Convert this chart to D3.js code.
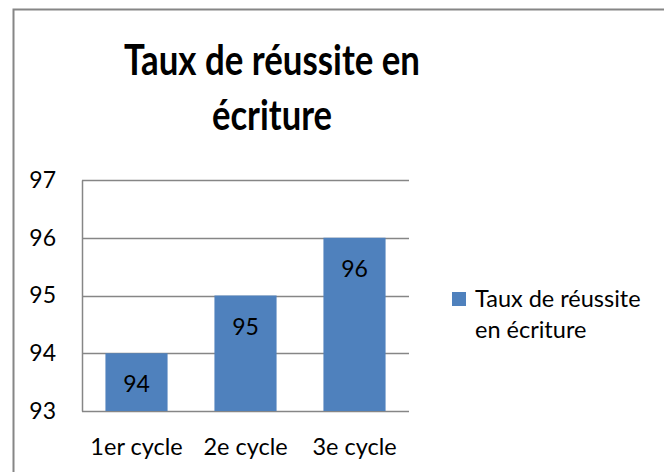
<!DOCTYPE html>
<html>
<head>
<meta charset="utf-8">
<script src="https://cdn.jsdelivr.net/npm/d3@7"></script>
<style>
  html, body { margin: 0; padding: 0; background: #fff; }
  svg { display: block; }
  text { font-family: Lato, "Open Sans", sans-serif; fill: #000; }
</style>
</head>
<body>
<div id="chart"></div>
<script>
const categories = ['1er cycle', '2e cycle', '3e cycle'];
const values = [94, 95, 96];
const yTicks = [93, 94, 95, 96, 97];
const seriesName = 'Taux de réussite en écriture';
const titleLines = ['Taux de réussite en', 'écriture'];
const legendLines = ['Taux de réussite', 'en écriture'];

const width = 664, height = 472;
const plot = { left: 82, right: 409, top: 180, bottom: 411 };
const font = 'Lato, "Open Sans", sans-serif';

const svg = d3.select('#chart').append('svg').attr('width', width).attr('height', height);

// chart frame (clipped on right and bottom like the original)
svg.append('path')
  .attr('d', `M13.5,${height} L13.5,9.5 L${width},9.5`)
  .attr('fill', 'none').attr('stroke', '#868686').attr('stroke-width', 2);

// title
svg.append('g').selectAll('text').data(titleLines).enter().append('text')
  .attr('x', 272).attr('y', (d, i) => 75 + i * 55)
  .attr('text-anchor', 'middle')
  .attr('font-size', 42).attr('font-weight', 'bold')
  .attr('textLength', (d, i) => i === 0 ? 296 : 120)
  .attr('lengthAdjust', 'spacingAndGlyphs')
  .text(d => d);

const x = d3.scaleBand().domain(categories).range([plot.left, plot.right])
  .paddingInner(0.43).paddingOuter(0.215);
const y = d3.scaleLinear().domain([93, 97]).range([plot.bottom, plot.top]);

// gridlines
svg.append('g').selectAll('line').data(yTicks).enter().append('line')
  .attr('x1', plot.left).attr('x2', plot.right)
  .attr('y1', d => Math.round(y(d)) + 0.5).attr('y2', d => Math.round(y(d)) + 0.5)
  .attr('stroke', '#868686').attr('stroke-width', 1.5);

// bars
svg.append('g').selectAll('rect').data(values).enter().append('rect')
  .attr('x', (d, i) => x(categories[i]))
  .attr('width', x.bandwidth())
  .attr('y', d => y(d))
  .attr('height', d => y(93) - y(d))
  .attr('fill', '#4F81BD');

// value labels
svg.append('g').selectAll('text').data(values).enter().append('text')
  .attr('x', (d, i) => x(categories[i]) + x.bandwidth() / 2)
  .attr('y', d => y(d) + 39)
  .attr('text-anchor', 'middle')
  .attr('font-size', 23)
  .text(d => d);

// y axis
const yAxis = svg.append('g').attr('transform', `translate(${plot.left},0)`)
  .call(d3.axisLeft(y).tickValues(yTicks).tickSize(0).tickPadding(26).tickFormat(d3.format('d')));
yAxis.select('.domain').attr('stroke', '#868686').attr('stroke-width', 1.5);
yAxis.selectAll('text').attr('font-size', 23).attr('fill', '#000').attr('font-family', font);

// x axis
const xAxis = svg.append('g').attr('transform', `translate(0,${plot.bottom})`)
  .call(d3.axisBottom(x).tickSize(0).tickPadding(27));
xAxis.select('.domain').remove();
xAxis.selectAll('text').attr('font-size', 23.5).attr('fill', '#000').attr('font-family', font);

// legend
const legend = svg.append('g');
legend.append('rect').attr('x', 452).attr('y', 292).attr('width', 14).attr('height', 14)
  .attr('fill', '#4F81BD');
legend.selectAll('text').data(legendLines).enter().append('text')
  .attr('x', 475).attr('y', (d, i) => 307 + i * 31)
  .attr('font-size', 23.5)
  .text(d => d);
</script>
</body>
</html>
